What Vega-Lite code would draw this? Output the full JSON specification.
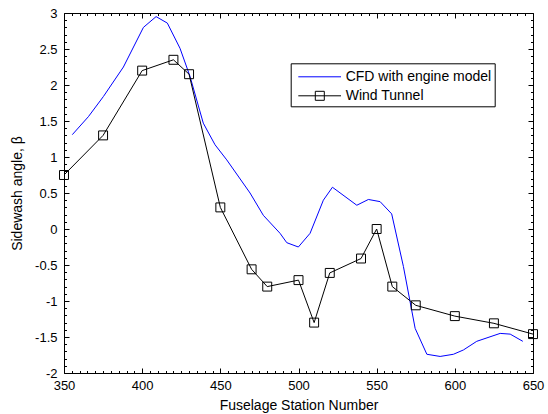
{
  "$schema": "https://vega.github.io/schema/vega-lite/v6.json",
  "autosize": {"type": "none"},
  "padding": {"left": 64, "top": 13, "right": 15, "bottom": 41},
  "width": 469,
  "height": 360,
  "background": "white",
  "config": {
    "font": "Liberation Sans",
    "view": {"stroke": null},
    "axis": {
      "domainColor": "black",
      "domainWidth": 1,
      "tickColor": "black",
      "tickWidth": 1,
      "labelColor": "black",
      "labelFont": "Liberation Sans",
      "labelFontSize": 13,
      "titleFont": "Liberation Sans",
      "titleFontSize": 14,
      "titleFontWeight": "normal",
      "titleColor": "black",
      "grid": false,
      "labelOverlap": false,
      "labelFlush": false
    },
    "legend": {
      "labelFont": "Liberation Sans",
      "labelFontSize": 14,
      "labelColor": "black"
    }
  },
  "data": {
    "values": [
      {"station": 355.3, "beta": 1.31, "series": "CFD with engine model"},
      {"station": 365.6, "beta": 1.56, "series": "CFD with engine model"},
      {"station": 375.2, "beta": 1.84, "series": "CFD with engine model"},
      {"station": 388.0, "beta": 2.25, "series": "CFD with engine model"},
      {"station": 400.8, "beta": 2.80, "series": "CFD with engine model"},
      {"station": 408.9, "beta": 2.95, "series": "CFD with engine model"},
      {"station": 416.1, "beta": 2.86, "series": "CFD with engine model"},
      {"station": 424.2, "beta": 2.51, "series": "CFD with engine model"},
      {"station": 430.6, "beta": 2.12, "series": "CFD with engine model"},
      {"station": 439.1, "beta": 1.47, "series": "CFD with engine model"},
      {"station": 446.6, "beta": 1.17, "series": "CFD with engine model"},
      {"station": 454.1, "beta": 0.96, "series": "CFD with engine model"},
      {"station": 469.0, "beta": 0.50, "series": "CFD with engine model"},
      {"station": 477.5, "beta": 0.19, "series": "CFD with engine model"},
      {"station": 488.2, "beta": -0.06, "series": "CFD with engine model"},
      {"station": 492.5, "beta": -0.19, "series": "CFD with engine model"},
      {"station": 499.9, "beta": -0.25, "series": "CFD with engine model"},
      {"station": 507.4, "beta": -0.06, "series": "CFD with engine model"},
      {"station": 515.9, "beta": 0.40, "series": "CFD with engine model"},
      {"station": 521.7, "beta": 0.58, "series": "CFD with engine model"},
      {"station": 537.3, "beta": 0.33, "series": "CFD with engine model"},
      {"station": 544.7, "beta": 0.41, "series": "CFD with engine model"},
      {"station": 552.2, "beta": 0.38, "series": "CFD with engine model"},
      {"station": 559.6, "beta": 0.21, "series": "CFD with engine model"},
      {"station": 567.1, "beta": -0.52, "series": "CFD with engine model"},
      {"station": 574.6, "beta": -1.38, "series": "CFD with engine model"},
      {"station": 582.1, "beta": -1.74, "series": "CFD with engine model"},
      {"station": 590.6, "beta": -1.77, "series": "CFD with engine model"},
      {"station": 599.1, "beta": -1.74, "series": "CFD with engine model"},
      {"station": 605.5, "beta": -1.68, "series": "CFD with engine model"},
      {"station": 614.0, "beta": -1.56, "series": "CFD with engine model"},
      {"station": 629.0, "beta": -1.45, "series": "CFD with engine model"},
      {"station": 635.4, "beta": -1.46, "series": "CFD with engine model"},
      {"station": 643.5, "beta": -1.56, "series": "CFD with engine model"},
      {"station": 350, "beta": 0.75, "series": "Wind Tunnel"},
      {"station": 375, "beta": 1.3, "series": "Wind Tunnel"},
      {"station": 400, "beta": 2.2, "series": "Wind Tunnel"},
      {"station": 420, "beta": 2.35, "series": "Wind Tunnel"},
      {"station": 430, "beta": 2.15, "series": "Wind Tunnel"},
      {"station": 450, "beta": 0.3, "series": "Wind Tunnel"},
      {"station": 470, "beta": -0.56, "series": "Wind Tunnel"},
      {"station": 480, "beta": -0.8, "series": "Wind Tunnel"},
      {"station": 500, "beta": -0.71, "series": "Wind Tunnel"},
      {"station": 510, "beta": -1.3, "series": "Wind Tunnel"},
      {"station": 520, "beta": -0.61, "series": "Wind Tunnel"},
      {"station": 540, "beta": -0.41, "series": "Wind Tunnel"},
      {"station": 550, "beta": 0.0, "series": "Wind Tunnel"},
      {"station": 560, "beta": -0.8, "series": "Wind Tunnel"},
      {"station": 575, "beta": -1.06, "series": "Wind Tunnel"},
      {"station": 600, "beta": -1.21, "series": "Wind Tunnel"},
      {"station": 625, "beta": -1.31, "series": "Wind Tunnel"},
      {"station": 650, "beta": -1.46, "series": "Wind Tunnel"}
    ]
  },
  "resolve": {"axis": {"x": "independent", "y": "independent"}},
  "layer": [
    {
      "mark": {"type": "line", "strokeWidth": 1, "clip": true},
      "encoding": {
        "x": {
          "field": "station", "type": "quantitative",
          "scale": {"domain": [350, 650], "nice": false, "zero": false},
          "axis": {
            "orient": "bottom",
            "title": "Fuselage Station Number",
            "values": [350,355,360,365,370,375,380,385,390,395,400,405,410,415,420,425,430,435,440,445,450,455,460,465,470,475,480,485,490,495,500,505,510,515,520,525,530,535,540,545,550,555,560,565,570,575,580,585,590,595,600,605,610,615,620,625,630,635,640,645,650],
            "tickSize": {"expr": "datum.value % 50 === 0 ? -5 : -2.5"},
            "labelPadding": 11,
            "labelExpr": "datum.value % 50 === 0 ? '' + datum.value : ''",
            "titlePadding": 4
          }
        },
        "y": {
          "field": "beta", "type": "quantitative",
          "scale": {"domain": [-2, 3], "nice": false, "zero": false},
          "axis": {
            "orient": "left",
            "title": "Sidewash angle, β",
            "values": [-2,-1.9,-1.8,-1.7,-1.6,-1.5,-1.4,-1.3,-1.2,-1.1,-1,-0.9,-0.8,-0.7,-0.6,-0.5,-0.4,-0.3,-0.2,-0.1,0,0.1,0.2,0.3,0.4,0.5,0.6,0.7,0.8,0.9,1,1.1,1.2,1.3,1.4,1.5,1.6,1.7,1.8,1.9,2,2.1,2.2,2.3,2.4,2.5,2.6,2.7,2.8,2.9,3],
            "tickSize": {"expr": "abs(round(datum.value * 10)) % 5 === 0 ? -5 : -2.5"},
            "labelPadding": 12,
            "labelExpr": "abs(round(datum.value * 10)) % 5 === 0 ? '' + datum.value : ''",
            "titlePadding": 10
          }
        },
        "color": {
          "field": "series", "type": "nominal",
          "scale": {"domain": ["CFD with engine model", "Wind Tunnel"], "range": ["#0000ff", "#000000"]},
          "legend": {
            "title": null,
            "orient": "none",
            "legendX": 226.7,
            "legendY": 50.3,
            "padding": 3,
            "rowPadding": 1,
            "symbolSize": 400,
            "symbolStrokeWidth": 1,
            "labelOffset": 31,
            "strokeColor": "black",
            "fillColor": "white",
            "encode": {
              "symbols": {
                "update": {
                  "shape": {"signal": "datum.value === 'Wind Tunnel' ? 'M-0.59,0H3.68M1.11,-0.45H2.01V0.45H1.11Z' : 'M-0.59,0H3.68'"},
                  "fill": {"value": "transparent"},
                  "strokeWidth": {"value": 1}
                }
              }
            }
          }
        }
      }
    },
    {
      "transform": [{"filter": "datum.series === 'Wind Tunnel'"}],
      "mark": {"type": "point", "shape": "square", "size": 80, "filled": false, "stroke": "black", "strokeWidth": 1, "opacity": 1},
      "encoding": {
        "x": {
          "field": "station", "type": "quantitative",
          "axis": {
            "orient": "top",
            "title": null,
            "labels": false,
            "values": [350,355,360,365,370,375,380,385,390,395,400,405,410,415,420,425,430,435,440,445,450,455,460,465,470,475,480,485,490,495,500,505,510,515,520,525,530,535,540,545,550,555,560,565,570,575,580,585,590,595,600,605,610,615,620,625,630,635,640,645,650],
            "tickSize": {"expr": "datum.value % 50 === 0 ? -5 : -2.5"}
          }
        },
        "y": {
          "field": "beta", "type": "quantitative",
          "axis": {
            "orient": "right",
            "title": null,
            "labels": false,
            "values": [-2,-1.9,-1.8,-1.7,-1.6,-1.5,-1.4,-1.3,-1.2,-1.1,-1,-0.9,-0.8,-0.7,-0.6,-0.5,-0.4,-0.3,-0.2,-0.1,0,0.1,0.2,0.3,0.4,0.5,0.6,0.7,0.8,0.9,1,1.1,1.2,1.3,1.4,1.5,1.6,1.7,1.8,1.9,2,2.1,2.2,2.3,2.4,2.5,2.6,2.7,2.8,2.9,3],
            "tickSize": {"expr": "abs(round(datum.value * 10)) % 5 === 0 ? -5 : -2.5"}
          }
        }
      }
    }
  ]
}
